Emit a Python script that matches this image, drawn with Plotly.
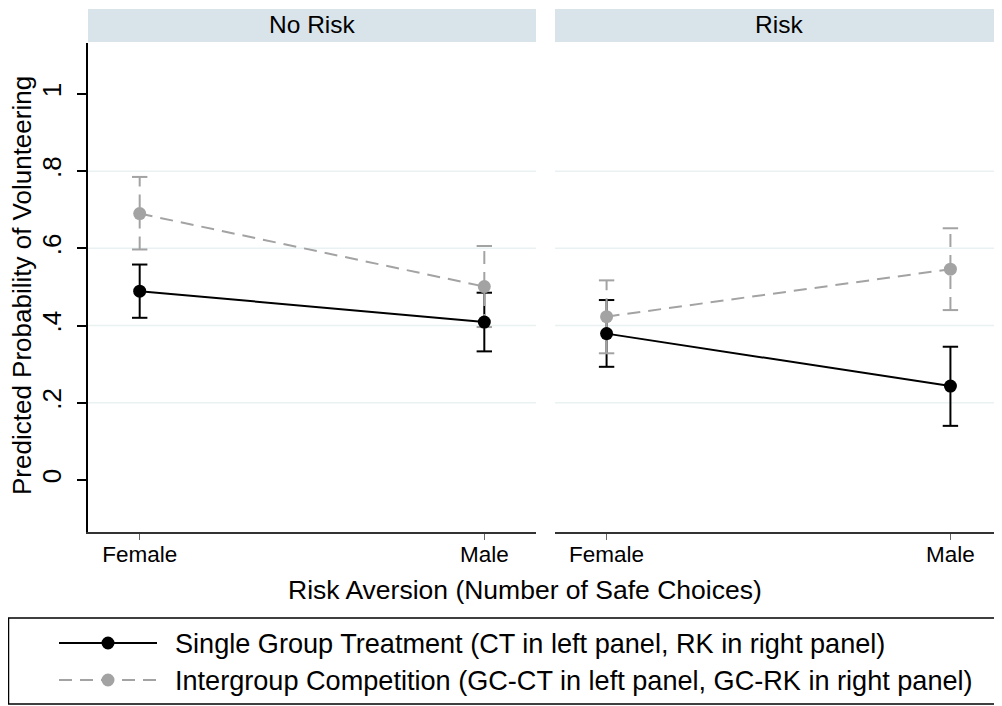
import plotly.graph_objects as go

# ---- data ----
categories = ["Female", "Male"]
panels = ["No Risk", "Risk"]

# Single Group Treatment (CT left, RK right)
single_mean = {"No Risk": [0.489, 0.409], "Risk": [0.379, 0.243]}
single_lo = {"No Risk": [0.420, 0.333], "Risk": [0.293, 0.140]}
single_hi = {"No Risk": [0.558, 0.485], "Risk": [0.466, 0.345]}

# Intergroup Competition (GC-CT left, GC-RK right)
inter_mean = {"No Risk": [0.690, 0.501], "Risk": [0.423, 0.546]}
inter_lo = {"No Risk": [0.597, 0.396], "Risk": [0.328, 0.440]}
inter_hi = {"No Risk": [0.785, 0.606], "Risk": [0.517, 0.652]}

series_names = [
    "Single Group Treatment (CT in left panel, RK in right panel)",
    "Intergroup Competition (GC-CT in left panel, GC-RK in right panel)",
]
y_ticks = [0, 0.2, 0.4, 0.6, 0.8, 1.0]
y_ticklabels = ["0", ".2", ".4", ".6", ".8", "1"]
grid_vals = [0.2, 0.4, 0.6, 0.8]

# ---- style ----
OFF = 8  # page body margin
W, H = 1002 - OFF, 706 - OFF
FONT = "Liberation Sans, Arial, Helvetica, sans-serif"
BLACK = "#000000"
GRAY = "#a3a3a3"
GRID = "#e9f1f3"
STRIP = "#d9e4ea"
DASH = "13px,8px"


def px(xs):
    return (xs - OFF) / W


def py(ys):
    return 1 - (ys - OFF) / H


y_dom = [py(532), py(43)]
x_doms = [[px(88), px(536)], [px(555), 1.0]]
y_range = [-0.135, 1.132]
x_range = [-0.15, 1.15]

fig = go.Figure()

series = [
    (single_mean, single_lo, single_hi, BLACK, "solid"),
    (inter_mean, inter_lo, inter_hi, GRAY, DASH),
]

for pi, panel in enumerate(panels):
    xa = "x" if pi == 0 else "x2"
    ya = "y" if pi == 0 else "y2"
    for mean, lo, hi, col, dash in series:
        xs, ys = [], []
        for c, l, h in zip(categories, lo[panel], hi[panel]):
            xs += [c, c, None]
            ys += [l, h, None]
        fig.add_trace(go.Scatter(
            x=xs, y=ys, xaxis=xa, yaxis=ya, mode="lines",
            line=dict(color=col, width=2, dash=dash),
            showlegend=False, hoverinfo="skip"))
        fig.add_trace(go.Scatter(
            x=categories + categories, y=lo[panel] + hi[panel],
            xaxis=xa, yaxis=ya, mode="markers",
            marker=dict(symbol="line-ew-open", size=11, color=col,
                        line=dict(color=col, width=2)),
            showlegend=False, hoverinfo="skip"))
    for mean, lo, hi, col, dash in series:
        fig.add_trace(go.Scatter(
            x=categories, y=mean[panel], xaxis=xa, yaxis=ya,
            mode="lines+markers",
            line=dict(color=col, width=2, dash=dash),
            marker=dict(color=col, size=13),
            showlegend=False))

shapes = []
for pi in range(2):
    xr = "x domain" if pi == 0 else "x2 domain"
    yr = "y" if pi == 0 else "y2"
    for g in grid_vals:
        shapes.append(dict(type="line", xref=xr, yref=yr, x0=0, x1=1,
                           y0=g, y1=g, line=dict(color=GRID, width=1.5),
                           layer="below"))
for pi, panel in enumerate(panels):
    x0, x1 = x_doms[pi]
    shapes.append(dict(type="rect", xref="paper", yref="paper",
                       x0=x0, x1=x1, y0=py(42), y1=py(9),
                       fillcolor=STRIP, line=dict(width=0), layer="below"))
# legend box
shapes.append(dict(type="rect", xref="paper", yref="paper",
                   x0=px(8.5), x1=px(1001), y0=py(704), y1=py(618),
                   line=dict(color=BLACK, width=1.5)))
legend_rows = [643, 680]
r = 6.5
for (mean, lo, hi, col, dash), row in zip(series, legend_rows):
    shapes.append(dict(type="line", xref="paper", yref="paper",
                       x0=px(59), x1=px(157), y0=py(row), y1=py(row),
                       line=dict(color=col, width=2, dash=dash)))
    shapes.append(dict(type="circle", xref="paper", yref="paper",
                       x0=px(108 - r), x1=px(108 + r),
                       y0=py(row + r), y1=py(row - r),
                       fillcolor=col, line=dict(color=col, width=0)))

annotations = []
for pi, panel in enumerate(panels):
    x0, x1 = x_doms[pi]
    annotations.append(dict(text=panel, xref="paper", yref="paper",
                            x=(x0 + x1) / 2, y=py(25), showarrow=False,
                            xanchor="center", yanchor="middle",
                            font=dict(size=24.5, color=BLACK, family=FONT)))
annotations.append(dict(text="Risk Aversion (Number of Safe Choices)",
                        xref="paper", yref="paper", x=px(525), y=py(590),
                        showarrow=False, xanchor="center", yanchor="middle",
                        font=dict(size=26.5, color=BLACK, family=FONT)))
annotations.append(dict(text="Predicted Probability of Volunteering",
                        xref="paper", yref="paper", x=px(22), y=py(286),
                        showarrow=False, textangle=-90,
                        xanchor="center", yanchor="middle",
                        font=dict(size=26, color=BLACK, family=FONT)))
for name, row in zip(series_names, legend_rows):
    annotations.append(dict(text=name, xref="paper", yref="paper",
                            x=px(173), y=py(row), showarrow=False,
                            xanchor="left", yanchor="middle",
                            font=dict(size=27.1, color=BLACK, family=FONT)))

axis_common = dict(range=x_range, type="category", showgrid=False,
                   zeroline=False, showline=True, linecolor="#333333",
                   linewidth=1.5, ticks="outside", ticklen=6,
                   tickcolor="#666666", tickwidth=1, ticklabelstandoff=-5,
                   tickfont=dict(size=22.5, color=BLACK, family=FONT),
                   categoryorder="array", categoryarray=categories)

fig.update_layout(
    width=W, height=H,
    margin=dict(l=0, r=0, t=0, b=0),
    paper_bgcolor="white", plot_bgcolor="white",
    showlegend=False,
    xaxis=dict(domain=x_doms[0], anchor="y", **axis_common),
    xaxis2=dict(domain=x_doms[1], anchor="y2", **axis_common),
    yaxis=dict(domain=y_dom, anchor="x", range=y_range,
               tickvals=y_ticks, ticktext=y_ticklabels, tickangle=-90,
               ticks="outside", ticklen=9, tickcolor=BLACK, tickwidth=1.5,
               ticklabelstandoff=6,
               showline=True, linecolor=BLACK, linewidth=1.5,
               showgrid=False, zeroline=False,
               tickfont=dict(size=26, color=BLACK, family=FONT)),
    yaxis2=dict(domain=y_dom, anchor="x2", range=y_range,
                showticklabels=False, ticks="", showline=False,
                showgrid=False, zeroline=False),
    shapes=shapes,
    annotations=annotations,
)

fig.write_html("out.html")
